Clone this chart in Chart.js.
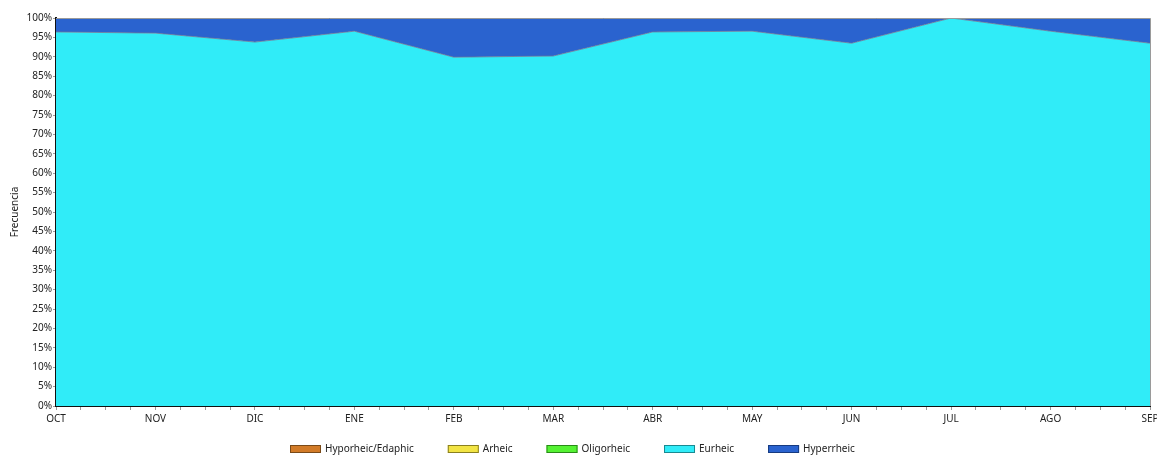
<!DOCTYPE html>
<html>
<head>
<meta charset="utf-8">
<script src="https://cdn.jsdelivr.net/npm/chart.js@4"></script>
<style>
  html, body { margin:0; padding:0; background:#fff; }
  #wrap { width:1157px; height:455px; position:relative; }
</style>
</head>
<body>
<div id="wrap"><canvas id="chart"></canvas></div>
<script>
// ── Data ──────────────────────────────────────────────────
const months = ['OCT','NOV','DIC','ENE','FEB','MAR','ABR','MAY','JUN','JUL','AGO','SEP'];
const hyporheic  = [0,0,0,0,0,0,0,0,0,0,0,0];
const arheic     = [0,0,0,0,0,0,0,0,0,0,0,0];
const oligorheic = [0,0,0,0,0,0,0,0,0,0,0,0];
const eurheic    = [96.4,96.1,93.8,96.6,89.9,90.2,96.4,96.6,93.5,100,96.6,93.5];
const hyperrheic = [3.6,3.9,6.2,3.4,10.1,9.8,3.6,3.4,6.5,0,3.4,6.5];
const yTicks = [0,5,10,15,20,25,30,35,40,45,50,55,60,65,70,75,80,85,90,95,100];

const series = [
  { label:'Hyporheic/Edaphic', data:hyporheic,  fill:'#D27B28', edge:'#7a4a18' },
  { label:'Arheic',            data:arheic,     fill:'#F2E444', edge:'#8a8020' },
  { label:'Oligorheic',        data:oligorheic, fill:'#55F233', edge:'#2a8a18' },
  { label:'Eurheic',           data:eurheic,    fill:'#30ECF8', edge:'#1a8a92' },
  { label:'Hyperrheic',        data:hyperrheic, fill:'#2A63CF', edge:'#163a80' }
];

// ── Helpers ───────────────────────────────────────────────
const FONT = "'Noto Sans', 'Open Sans', sans-serif";
const FS = 10;
const gridC = 'rgba(0,100,120,0.14)';

// gray top/right edge of plot area
const frame = {
  id:'frame',
  afterDraw(c) {
    const {ctx, chartArea:a} = c;
    ctx.save();
    ctx.strokeStyle = '#9a9a9a';
    ctx.lineWidth = 1;
    ctx.beginPath();
    ctx.moveTo(a.left, a.top + 0.5); ctx.lineTo(a.right + 0.5, a.top + 0.5);
    ctx.lineTo(a.right + 0.5, a.bottom);
    ctx.stroke();
    ctx.restore();
  }
};

// legend row at the bottom, wide gaps between items
const bottomLegend = {
  id:'bottomLegend',
  afterDraw(c) {
    const {ctx} = c;
    const bw = 31, bh = 8, gapText = 4, gapItem = 34, y = 449;
    ctx.save();
    ctx.font = FS + 'px ' + FONT;
    ctx.textBaseline = 'middle';
    const items = c.data.datasets.map(d => ({ d, w: bw + gapText + ctx.measureText(d.label).width }));
    const total = items.reduce((s, it) => s + it.w, 0) + gapItem * (items.length - 1);
    let x = Math.round(c.width / 2 - 6 - total / 2);
    items.forEach(it => {
      ctx.fillStyle = it.d.backgroundColor;
      ctx.fillRect(x, y - bh / 2, bw, bh);
      ctx.strokeStyle = it.d.legendEdge;
      ctx.lineWidth = 1;
      ctx.strokeRect(x + 0.5, y - bh / 2 + 0.5, bw - 1, bh - 1);
      ctx.fillStyle = '#222';
      ctx.fillText(it.d.label, x + bw + gapText, y);
      x += it.w + gapItem;
    });
    ctx.restore();
  }
};

// ── Chart ─────────────────────────────────────────────────
new Chart(document.getElementById('chart'), {
  type:'line',
  data:{
    datasets: series.map((s, i) => ({
      label:s.label,
      data:s.data.map((v, k) => ({x:k, y:v})),
      backgroundColor:s.fill,
      borderColor: s.label === 'Eurheic' ? 'rgba(110,120,150,0.8)' : 'rgba(0,0,0,0)',
      borderWidth: s.label === 'Eurheic' ? 1 : 0,
      legendEdge:s.edge,
      fill: i === 0 ? 'origin' : '-1',
      pointRadius:0, tension:0
    }))
  },
  plugins:[frame, bottomLegend],
  options:{
    responsive:true, maintainAspectRatio:false, animation:false,
    layout:{ padding:{ top:18, right:7, bottom:27, left:0 } },
    plugins:{
      tooltip:{ enabled:false },
      legend:{ display:false }
    },
    scales:{
      x:{
        type:'linear', min:0, max:11, z:1,
        grid:{
          color: ctx => Number.isInteger(ctx.tick && ctx.tick.value) ? gridC : 'rgba(0,0,0,0)',
          tickColor:'#9a9a9a', tickLength:4
        },
        border:{ color:'#111', width:2 },
        ticks:{
          stepSize:0.25, autoSkip:false, maxRotation:0, padding:3,
          font:{ family:FONT, size:FS }, color:'#222',
          callback: v => Number.isInteger(v) ? months[v] : ''
        },
        afterFit: s => { s.paddingLeft = 0; s.paddingRight = 0; }
      },
      y:{
        type:'linear', stacked:true, min:0, max:100, z:1,
        afterBuildTicks: s => { s.ticks = yTicks.map(v => ({value:v})); },
        grid:{ color:gridC, tickColor:'#9a9a9a', tickLength:3 },
        border:{ color:'#111', width:2 },
        ticks:{
          font:{ family:FONT, size:FS }, color:'#222', padding:1,
          callback: v => v + '%'
        },
        title:{ display:true, text:'Frecuencia', font:{ family:FONT, size:FS }, color:'#222', padding:{top:9,bottom:4} },
        afterFit: s => { s.width = 56; }
      }
    }
  }
});
</script>
</body>
</html>
